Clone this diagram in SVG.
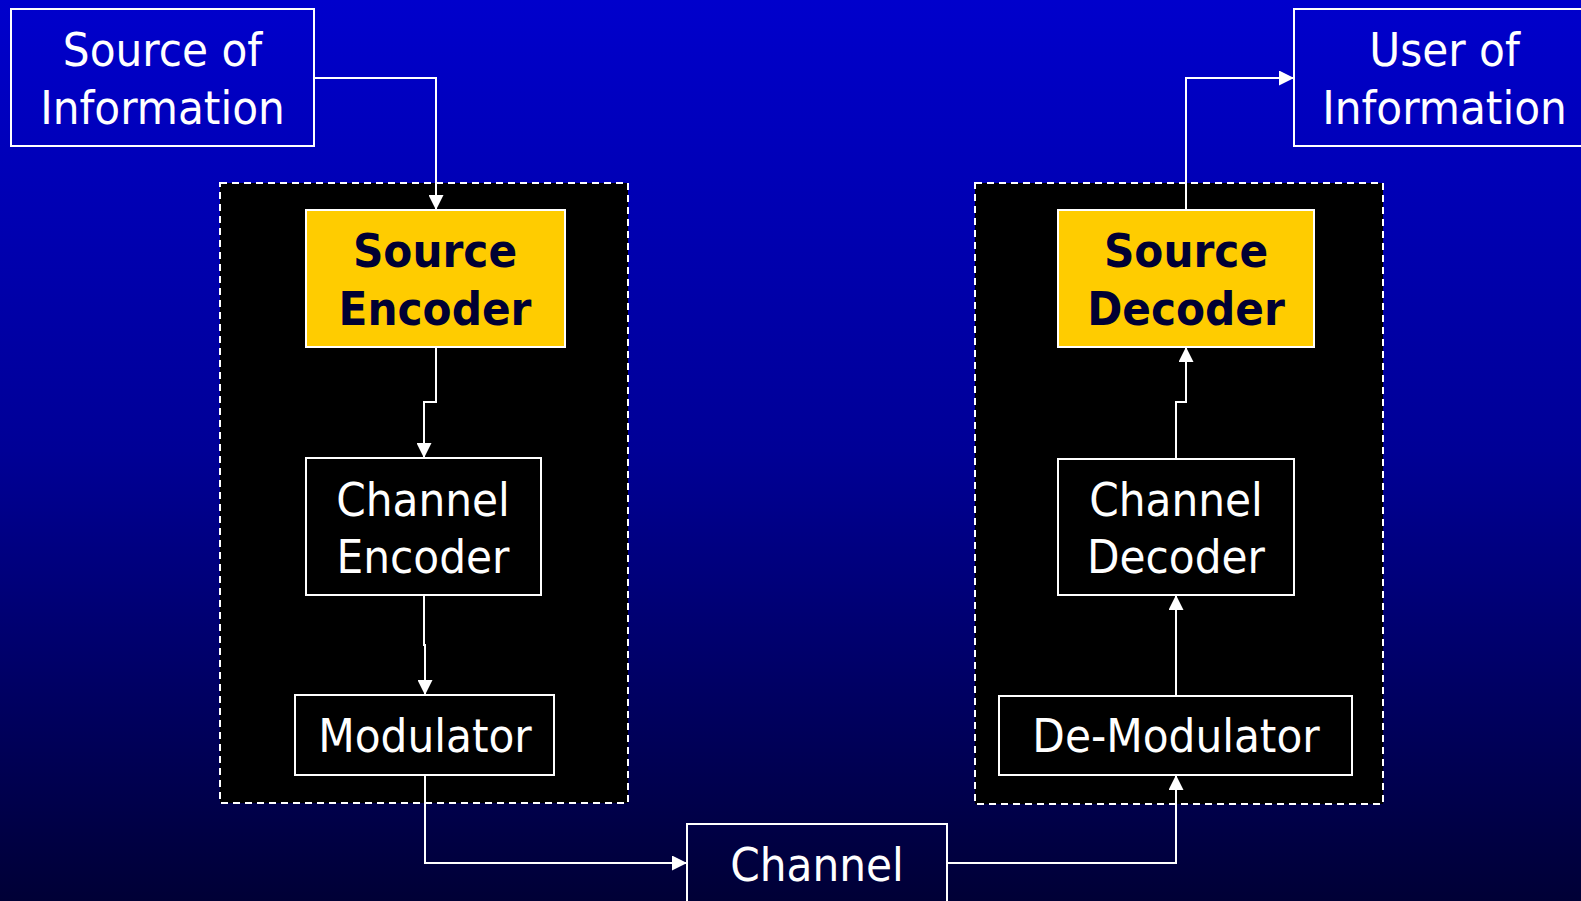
<svg xmlns="http://www.w3.org/2000/svg" width="1581" height="901" viewBox="0 0 1581 901">
  <defs>
    <linearGradient id="bg" x1="0" y1="0" x2="0" y2="1">
      <stop offset="0" stop-color="#0000CC"/>
      <stop offset="0.5" stop-color="#000096"/>
      <stop offset="1" stop-color="#000036"/>
    </linearGradient>
    <marker id="arrow" viewBox="0 0 15 15" refX="15" refY="7.5" markerWidth="15" markerHeight="15" markerUnits="userSpaceOnUse" orient="auto">
      <path d="M0,0 L15,7.5 L0,15 Z" fill="#FFFFFF"/>
    </marker>
    <style>
      .lbl { font-family: "DejaVu Sans Condensed", "DejaVu Sans", Tahoma, sans-serif; font-size: 47px; fill: #FFFFFF; text-anchor: middle; }
      .bold { font-weight: bold; fill: #000033; }
      .box { fill: none; stroke: #FFFFFF; stroke-width: 2; }
      .dark { fill: #000000; stroke: #FFFFFF; stroke-width: 2; }
      .yellow { fill: #FFCC00; stroke: #FFFFFF; stroke-width: 2; }
      .group { fill: #000000; stroke: #FFFFFF; stroke-width: 2; stroke-dasharray: 7 5; }
      .wire { fill: none; stroke: #FFFFFF; stroke-width: 2; marker-end: url(#arrow); }
    </style>
  </defs>

  <!-- background -->
  <rect x="0" y="0" width="1581" height="901" fill="url(#bg)"/>

  <!-- transmitter and receiver enclosures -->
  <g id="transmitter">
    <rect class="group" x="220" y="183" width="408" height="620"/>
  </g>
  <g id="receiver">
    <rect class="group" x="975" y="183" width="408" height="621"/>
  </g>

  <!-- connectors -->
  <g id="connectors">
    <path class="wire" d="M314,78 H436 V210"/>
    <path class="wire" d="M436,347 V402 H424 V458"/>
    <path class="wire" d="M424,595 V645 H425 V695"/>
    <path class="wire" d="M425,775 V863 H687"/>
    <path class="wire" d="M947,863 H1176 V775"/>
    <path class="wire" d="M1176,696 V595"/>
    <path class="wire" d="M1176,459 V402 H1186 V347"/>
    <path class="wire" d="M1186,210 V78 H1294"/>
  </g>

  <g id="source-of-information">
    <rect class="box" x="11" y="9" width="303" height="137"/>
    <text class="lbl" x="162.5" y="66">Source of</text>
    <text class="lbl" x="162.5" y="124">Information</text>
  </g>

  <g id="user-of-information">
    <rect class="box" x="1294" y="9" width="300" height="137"/>
    <text class="lbl" x="1444.5" y="66">User of</text>
    <text class="lbl" x="1444.5" y="124">Information</text>
  </g>

  <g id="source-encoder">
    <rect class="yellow" x="306" y="210" width="259" height="137"/>
    <text class="lbl bold" x="435" y="267">Source</text>
    <text class="lbl bold" x="435" y="325">Encoder</text>
  </g>

  <g id="channel-encoder">
    <rect class="dark" x="306" y="458" width="235" height="137"/>
    <text class="lbl" x="423" y="516">Channel</text>
    <text class="lbl" x="423" y="573">Encoder</text>
  </g>

  <g id="modulator">
    <rect class="dark" x="295" y="695" width="259" height="80"/>
    <text class="lbl" x="425" y="752">Modulator</text>
  </g>

  <g id="channel">
    <rect class="box" x="687" y="824" width="260" height="100"/>
    <text class="lbl" x="817" y="881">Channel</text>
  </g>

  <g id="de-modulator">
    <rect class="dark" x="999" y="696" width="353" height="79"/>
    <text class="lbl" x="1176" y="752">De-Modulator</text>
  </g>

  <g id="channel-decoder">
    <rect class="dark" x="1058" y="459" width="236" height="136"/>
    <text class="lbl" x="1176" y="516">Channel</text>
    <text class="lbl" x="1176" y="573">Decoder</text>
  </g>

  <g id="source-decoder">
    <rect class="yellow" x="1058" y="210" width="256" height="137"/>
    <text class="lbl bold" x="1186" y="267">Source</text>
    <text class="lbl bold" x="1186" y="325">Decoder</text>
  </g>
</svg>
